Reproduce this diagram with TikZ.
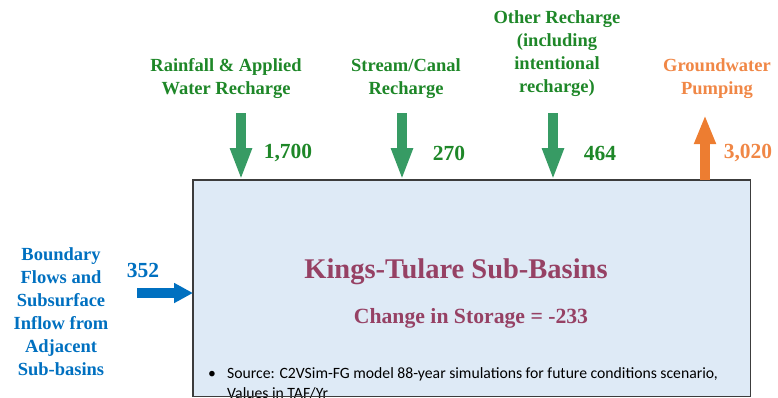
\documentclass[tikz,border=0pt]{standalone}
\usepackage{fontspec}
\setmainfont{Liberation Serif}
\newfontfamily\srcfont{Carlito}
\usetikzlibrary{arrows.meta}

\definecolor{rechargetext}{RGB}{30,135,40}
\definecolor{rechargearrow}{RGB}{55,155,100}
\definecolor{pumparrow}{RGB}{237,125,49}
\definecolor{pumptext}{RGB}{240,135,70}
\definecolor{inflowblue}{RGB}{0,112,192}
\definecolor{titlecol}{RGB}{150,65,100}
\definecolor{basinfill}{RGB}{222,234,246}
\definecolor{basinedge}{RGB}{60,60,60}

\tikzset{
  flowlabel/.style={align=center, inner sep=0pt,
    font=\fontsize{18.5}{23}\selectfont\bfseries},
  amount/.style={inner sep=0pt, font=\fontsize{21.5}{24}\selectfont\bfseries},
  downflow/.style={draw=rechargearrow, line width=10pt,
    -{Triangle[length=32pt,width=20pt]}},
  upflow/.style={draw=pumparrow, line width=9.5pt,
    -{Triangle[length=29pt,width=20pt]}},
  sideflow/.style={draw=inflowblue, line width=10pt,
    -{Triangle[length=19pt,width=19pt]}},
}

\begin{document}
\begin{tikzpicture}[x=1pt, y=-1pt]
  \useasboundingbox (0,0) rectangle (778,397);

  % sub-basin box (filled first, outlined after its text)
  \node[fill=basinfill, minimum width=557pt, minimum height=216pt,
        inner sep=0pt, anchor=north west] (basin) at (193,180) {};

  \node[text=titlecol, inner sep=0pt,
        font=\fontsize{28.5}{32}\selectfont\bfseries] (title) at (456,272)
        {Kings-Tulare Sub-Basins};
  \node[text=titlecol, inner sep=0pt,
        font=\fontsize{21.7}{24}\selectfont\bfseries] (storage) at (471,318)
        {Change in Storage = -233};

  \node[anchor=west, inner sep=0pt, font=\srcfont\fontsize{15.7}{20}\selectfont,
        align=left] (source) at (208,383)
        {\makebox[19pt][l]{\textbullet}Source: C2VSim-FG model 88-year simulations for future conditions scenario,\\
         \hspace*{19pt}Values in TAF/Yr};

  \draw[basinedge, line width=1.5pt] (basin.north west) rectangle (basin.south east);

  % flow labels
  \node[flowlabel, text=rechargetext] (rain) at (226,78.5)
        {Rainfall \& Applied\\Water Recharge};
  \node[flowlabel, text=rechargetext] (stream) at (406,78.5)
        {Stream/Canal\\Recharge};
  \node[flowlabel, text=rechargetext] (other) at (557,54)
        {Other Recharge\\(including\\intentional\\recharge)};
  \node[flowlabel, text=pumptext] (pump) at (717,78.5)
        {Groundwater\\Pumping};
  \node[flowlabel, text=inflowblue] (bound) at (61,311.5)
        {Boundary\\Flows and\\Subsurface\\Inflow from\\Adjacent\\Sub-basins};

  \coordinate (rainstart) at (241,113);
  \coordinate (streamstart) at (402,113);
  \coordinate (otherstart) at (553,113);
  \coordinate (pumpend) at (705,115);
  \coordinate (boundstart) at (137,293);

  \draw[downflow] (rainstart) -- (rainstart |- basin.north);
  \draw[downflow] (streamstart) -- (streamstart |- basin.north);
  \draw[downflow] (otherstart) -- (otherstart |- basin.north);
  \draw[upflow] (pumpend |- basin.north) -- (pumpend);
  \draw[sideflow] (boundstart) -- (boundstart -| basin.west);

  % annual amounts
  \node[amount, text=rechargetext] (rainval) at (288,153) {1,700};
  \node[amount, text=rechargetext] (streamval) at (449,153) {270};
  \node[amount, text=rechargetext] (otherval) at (600,153) {464};
  \node[amount, text=pumptext] (pumpval) at (748,153) {3,020};
  \node[amount, text=inflowblue] (boundval) at (143,270) {352};
\end{tikzpicture}
\end{document}
